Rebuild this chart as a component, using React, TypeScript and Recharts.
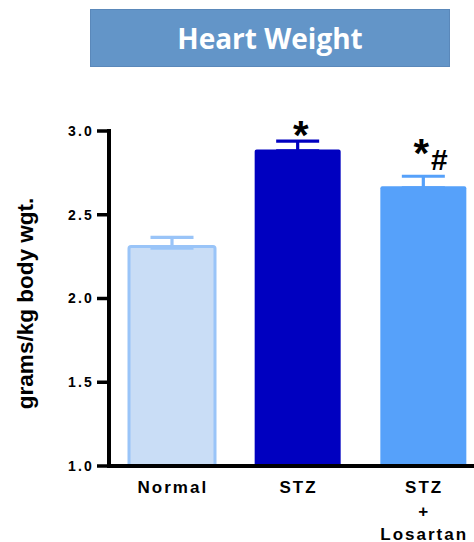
import { BarChart, Bar, XAxis, YAxis, ErrorBar, Cell, LabelList } from 'recharts';

const groups = ['Normal', 'STZ', 'STZ\n+\nLosartan'];
const heartWeight = [2.31, 2.89, 2.67];
const sem = [0.055, 0.05, 0.06];
const marks = ['', '*', '*#'];
const yTicks = [1.0, 1.5, 2.0, 2.5, 3.0];

const fills = ['#c9ddf6', '#0000c0', '#56a1fa'];
const strokes = ['#99c4f8', '#0000c0', '#56a1fa'];
const FONT = '"Liberation Sans", Arial, sans-serif';

// one error key per group so each ErrorBar can take the group's colour;
// the tiny lower part keeps the bottom cap hidden inside the bar
const data = groups.map((name, i) => ({
  name,
  value: heartWeight[i],
  ['err' + i]: [0.009, sem[i]],
}));

const GroupTick = (props: any) => {
  const { x, y, payload } = props;
  const lines = String(payload.value).split('\n');
  return (
    <text x={x} y={y} textAnchor="middle" fontFamily={FONT} fontWeight="bold" fontSize={17} letterSpacing={2} fill="#000">
      {lines.map((line, i) => (
        <tspan key={i} x={x + 1} dy={i === 0 ? 27 : 23.5}>{line}</tspan>
      ))}
    </text>
  );
};

const renderMark = (props: any) => {
  const { x, y, width, height, index } = props;
  const mark = marks[index];
  if (!mark) return null;
  const cx = x + width / 2;
  const capY = y - (sem[index] * height) / (heartWeight[index] - 1);
  const star = 40;
  const hash = 30;
  if (mark === '*') {
    return (
      <text x={cx + 3} y={capY - 14 + star * 0.56} textAnchor="middle" fontFamily={FONT} fontWeight="bold" fontSize={star} fill="#000">*</text>
    );
  }
  return (
    <g>
      <text x={cx - 2} y={capY - 32 + star * 0.56} textAnchor="middle" fontFamily={FONT} fontWeight="bold" fontSize={star} fill="#000">*</text>
      <text x={cx + 16} y={capY - 17 + hash * 0.36} textAnchor="middle" fontFamily={FONT} fontWeight="bold" fontSize={hash} fill="#000">#</text>
    </g>
  );
};

export default function App() {
  return (
    <div style={{ position: 'absolute', left: 0, top: 0, width: 474, height: 542, overflow: 'hidden', background: '#fff' }}>
      <div
        style={{
          position: 'absolute', left: 90, top: 9, width: 360, height: 58,
          background: '#6395c8', color: '#fff', boxSizing: 'border-box', border: '1px solid #5a88ba',
          display: 'flex', alignItems: 'center', justifyContent: 'center',
          fontFamily: '"Open Sans", sans-serif', fontWeight: 700, fontSize: 28,
        }}
      >
        Heart Weight
      </div>
      <div style={{ position: 'absolute', left: 0, top: 0 }}>
        <BarChart width={486} height={542} data={data} margin={{ top: 131, right: 0, bottom: 0, left: 0 }}>
          <XAxis
            dataKey="name"
            height={76}
            tickLine={false}
            tickSize={0}
            tickMargin={0}
            interval={0}
            tick={<GroupTick />}
            axisLine={{ stroke: '#000', strokeWidth: 4, strokeLinecap: 'square' }}
          />
          <YAxis
            type="number"
            domain={[1, 3]}
            ticks={yTicks}
            allowDataOverflow
            width={109}
            tickSize={12}
            tickMargin={3}
            tickFormatter={(v: number) => v.toFixed(1)}
            tick={{ fill: '#000', fontFamily: FONT, fontWeight: 'bold', fontSize: 14, letterSpacing: 2.2 }}
            tickLine={{ stroke: '#000', strokeWidth: 3.5 }}
            axisLine={{ stroke: '#000', strokeWidth: 4, strokeLinecap: 'square' }}
            label={{
              content: (p: any) => {
                const vb = p.viewBox || { x: 0, y: 131, width: 109, height: 335 };
                const lx = vb.x + 33;
                const ly = vb.y + vb.height / 2 + 5;
                return (
                  <text x={lx} y={ly} transform={`rotate(-90 ${lx} ${ly})`} textAnchor="middle" fontFamily={FONT} fontWeight="bold" fontSize={22.5} fill="#000">
                    grams/kg body wgt.
                  </text>
                );
              },
            }}
          />
          <Bar dataKey="value" barSize={86} radius={2} isAnimationActive={false}>
            {data.map((d, i) => (
              <Cell key={d.name} fill={fills[i]} stroke={strokes[i]} strokeWidth={i === 0 ? 3 : 0} />
            ))}
            {data.map((d, i) => (
              <ErrorBar key={'e' + i} dataKey={'err' + i} width={21.5} stroke={strokes[i]} strokeWidth={3.2} direction="y" />
            ))}
            <LabelList dataKey="value" content={renderMark} />
          </Bar>
        </BarChart>
      </div>
    </div>
  );
}
